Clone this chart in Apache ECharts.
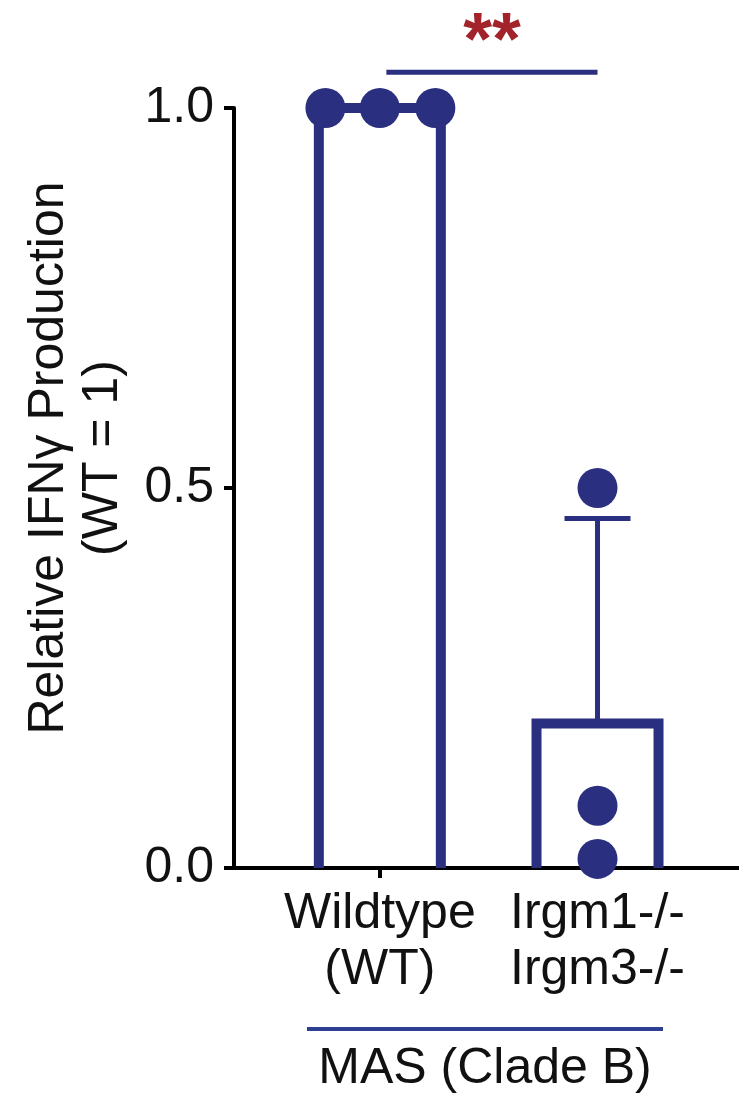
<!DOCTYPE html>
<html>
<head>
<meta charset="utf-8">
<script src="https://cdn.jsdelivr.net/npm/echarts@6/dist/echarts.min.js"></script>
<style>
html,body{margin:0;padding:0;background:#fff;}
#chart{width:739px;height:1098px;}
</style>
</head>
<body>
<div id="chart"></div>
<script>
// ---- data ----
const categories = ['Wildtype\n(WT)', 'Irgm1-/-\nIrgm3-/-'];
const categoryX = [1, 2];
const barMeans = [1.0, 0.19];
const errorUpper = [null, 0.46];
const wtPoints = [[0.75, 1.0], [1.0, 1.0], [1.255, 1.0]];
const koPoints = [[2, 0.5], [2, 0.082], [2, 0.012]];
const yTicks = [0, 0.5, 1.0];
const sigStart = 1.03, sigEnd = 2.0, sigLevel = 1.047, sigLabel = '**';
const groupLabel = 'MAS (Clade B)';
const yTitle = 'Relative IFNγ Production\n(WT = 1)';

const BLUE = '#2b2f80';
const RED = '#a3232a';
const FONT = 'Liberation Sans, Arial, sans-serif';

const barData = categoryX.map((x, i) => [x, barMeans[i]]);
const errData = categoryX.map((x, i) => errorUpper[i] == null ? null : [x, barMeans[i], errorUpper[i]]).filter(d => d);

const chart = echarts.init(document.getElementById('chart'));
chart.setOption({
  animation: false,
  backgroundColor: '#fff',
  grid: {left: 234, right: 0, top: 108, bottom: 230, outerBoundsMode: 'none', containLabel: false},
  xAxis: {
    type: 'value', min: 0.33, max: 2.65,
    splitLine: {show: false},
    axisLine: {show: true, onZero: true, lineStyle: {color: '#000', width: 4}},
    axisTick: {show: true, customValues: categoryX, length: 10, lineStyle: {color: '#000', width: 4}},
    axisLabel: {
      customValues: categoryX,
      formatter: v => categories[categoryX.indexOf(Math.round(v))] || '',
      fontSize: 50, lineHeight: 56, color: '#111', fontFamily: FONT, margin: 18
    }
  },
  yAxis: {
    type: 'value', min: 0, max: 1, interval: 0.5,
    splitLine: {show: false},
    axisLine: {show: true, lineStyle: {color: '#000', width: 4}},
    axisTick: {show: true, length: 10, lineStyle: {color: '#000', width: 4}},
    axisLabel: {formatter: v => v.toFixed(1), fontSize: 50, color: '#111', fontFamily: FONT, margin: 20}
  },
  series: [
    {
      type: 'custom', data: barData, z: 2,
      renderItem: (params, api) => {
        const x = api.value(0), y = api.value(1);
        const top = api.coord([x, y]);
        const base = api.coord([x, 0]);
        const h = 61;
        return {type: 'polyline', shape: {points: [[top[0]-h, base[1]], [top[0]-h, top[1]], [top[0]+h, top[1]], [top[0]+h, base[1]]]},
          style: {stroke: BLUE, lineWidth: 10, fill: null, lineJoin: 'miter'}};
      }
    },
    {
      type: 'custom', data: errData, z: 2,
      renderItem: (params, api) => {
        const x = api.value(0);
        const p0 = api.coord([x, api.value(1)]);
        const p1 = api.coord([x, api.value(2)]);
        return {type: 'group', children: [
          {type: 'line', shape: {x1: p0[0], y1: p0[1], x2: p1[0], y2: p1[1]}, style: {stroke: BLUE, lineWidth: 5}},
          {type: 'line', shape: {x1: p1[0]-33, y1: p1[1], x2: p1[0]+33, y2: p1[1]}, style: {stroke: BLUE, lineWidth: 5}}
        ]};
      }
    },
    {type: 'scatter', data: wtPoints, symbolSize: 40, itemStyle: {color: BLUE, opacity: 1}, z: 5},
    {type: 'scatter', data: koPoints, symbolSize: 40, itemStyle: {color: BLUE, opacity: 1}, z: 5},
    {
      type: 'custom', data: [[sigStart, sigEnd, sigLevel]], z: 3, clip: false,
      renderItem: (params, api) => {
        const a = api.coord([api.value(0), api.value(2)]);
        const b = api.coord([api.value(1), api.value(2)]);
        return {type: 'group', children: [
          {type: 'line', shape: {x1: a[0], y1: a[1], x2: b[0], y2: b[1]}, style: {stroke: BLUE, lineWidth: 5}},
          {type: 'text', x: (a[0]+b[0])/2, y: a[1]+8, style: {text: sigLabel, fill: RED, font: 'bold 74px ' + FONT, align: 'center', verticalAlign: 'bottom'}}
        ]};
      }
    }
  ],
  graphic: [
    {type: 'text', x: 76, y: 458, rotation: Math.PI/2,
      style: {text: yTitle, fill: '#111', font: '50px ' + FONT, lineHeight: 54, align: 'center', verticalAlign: 'middle'}},
    {type: 'line', shape: {x1: 307, y1: 1029, x2: 663, y2: 1029}, style: {stroke: '#2d3f90', lineWidth: 4}},
    {type: 'text', x: 485, y: 1069, style: {text: groupLabel, fill: '#111', font: '50px ' + FONT, align: 'center', verticalAlign: 'middle'}}
  ]
});
</script>
</body>
</html>
